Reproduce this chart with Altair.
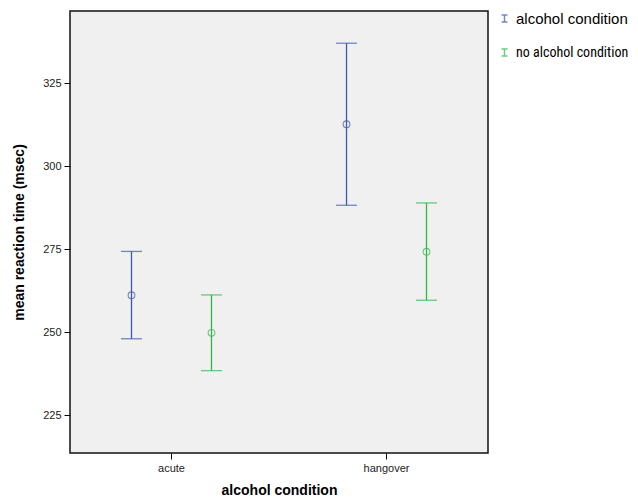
import altair as alt
import pandas as pd

conditions = ["acute", "acute", "hangover", "hangover"]
series = ["alcohol condition", "no alcohol condition", "alcohol condition", "no alcohol condition"]
means = [261.1, 249.8, 312.6, 274.2]
lowers = [248.0, 238.4, 288.2, 259.6]
uppers = [274.3, 261.2, 337.0, 288.9]

series_domain = ["alcohol condition", "no alcohol condition"]
series_colors = ["#3E58AC", "#2EB848"]
y_ticks = [225, 250, 275, 300, 325]

df = pd.DataFrame({
    "condition": conditions,
    "series": series,
    "mean": means,
    "lower": lowers,
    "upper": uppers,
})

FONT = "Liberation Sans"

x_enc = alt.X(
    "condition:N",
    scale=alt.Scale(paddingInner=0.256, paddingOuter=0.1),
    axis=alt.Axis(
        title="alcohol condition", labelAngle=0, tickSize=6, tickColor="#000",
        labelFont=FONT, labelFontSize=11, labelColor="#222", labelPadding=3,
        titleFont=FONT, titleFontSize=14, titleFontWeight="bold", titleColor="#000",
        titlePadding=10, domain=False, grid=False,
    ),
)
xoff_enc = alt.XOffset("series:N", scale=alt.Scale(domain=series_domain, paddingInner=0, paddingOuter=0))
y_scale = alt.Scale(domain=[213.6, 346.7], nice=False, zero=False)
y_axis = alt.Axis(
    title="mean reaction time (msec)", values=y_ticks, tickSize=6, tickColor="#000",
    labelFont=FONT, labelFontSize=11, labelColor="#222", labelPadding=3,
    titleFont=FONT, titleFontSize=14, titleFontWeight="bold", titleColor="#000",
    titlePadding=16, domain=False, grid=False,
)
color_enc = alt.Color(
    "series:N",
    scale=alt.Scale(domain=series_domain, range=series_colors),
    legend=alt.Legend(
        title=None, orient="none", legendX=427, legendY=0,
        symbolType="M-0.85,-1H0.85M0,-1V1M-0.85,1H0.85",
        symbolSize=49, symbolStrokeWidth=1.5, symbolFillColor="transparent",
        labelFontSize={"expr": "datum.label == 'no alcohol condition' ? 14 : 15"},
        labelColor="#000", labelLimit=200,
        labelFont={"expr": "datum.label == 'no alcohol condition' ? 'Roboto Condensed' : 'Liberation Sans'"},
        rowPadding=18, labelOffset=4,
    ),
)

base = alt.Chart(df).encode(x=x_enc, xOffset=xoff_enc, color=color_enc)

rules = base.mark_rule(strokeWidth=1.3).encode(
    y=alt.Y("lower:Q", scale=y_scale, axis=y_axis), y2="upper:Q"
)
top_caps = base.mark_tick(size=21, thickness=1.3, orient="horizontal").encode(
    y=alt.Y("upper:Q", scale=y_scale)
)
bot_caps = base.mark_tick(size=21, thickness=1.3, orient="horizontal").encode(
    y=alt.Y("lower:Q", scale=y_scale)
)
points = base.mark_point(shape="circle", filled=False, size=45, strokeWidth=1.1).encode(
    y=alt.Y("mean:Q", scale=y_scale)
)

chart = (
    alt.layer(rules, top_caps, bot_caps, points)
    .properties(
        width=418, height=442,
        autosize=alt.AutoSizeParams(type="none"),
        padding={"left": 62, "top": 3, "right": 142, "bottom": 45},
    )
    .configure_view(fill="#F0F0F0", stroke="#111", strokeWidth=1.5)
)

chart.save("out.html", embed_options={"renderer": "svg", "actions": False})
